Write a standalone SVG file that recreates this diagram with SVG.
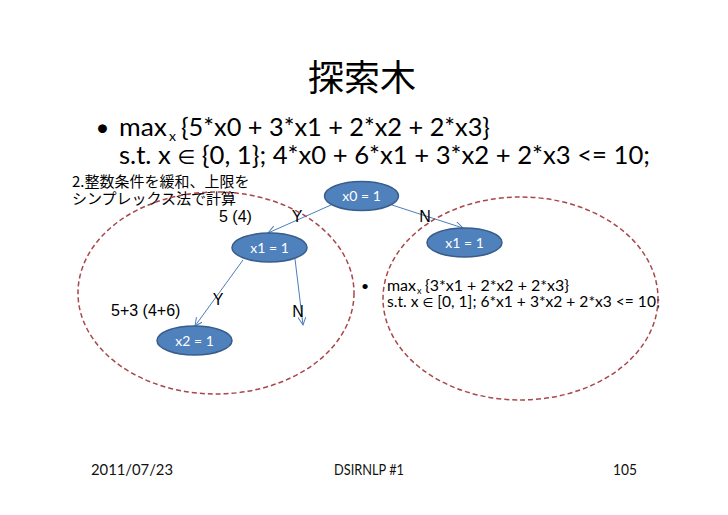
<svg xmlns="http://www.w3.org/2000/svg" width="728" height="515" viewBox="0 0 728 515">
<style>
  .main { font-family: Lato, "Open Sans", "DejaVu Sans", sans-serif; fill: #000; }
  .elem { font-family: "Noto Sans", "DejaVu Sans", sans-serif; font-size: 0.8em; }
  .jp { font-family: "Noto Sans CJK JP", sans-serif; fill: #000; }
  .lbl { font-family: "Liberation Sans", Arial, sans-serif; font-size: 16px; fill: #000; }
  .node ellipse { fill: #4F81BD; stroke: #385D8A; stroke-width: 1.5; }
  .node text { font-family: Lato, "Open Sans", sans-serif; font-size: 14px; fill: #fff; text-anchor: middle; }
  .edge { stroke: #4A7EBB; stroke-width: 1; fill: none; marker-end: url(#arr); }
  .region { fill: none; stroke: #A8474A; stroke-width: 1.5; stroke-dasharray: 5 3; }
  .foot { font-family: Lato, "Open Sans", sans-serif; font-size: 15px; fill: #111; }
</style>
<defs>
  <marker id="arr" markerUnits="userSpaceOnUse" markerWidth="12" markerHeight="12" refX="8" refY="4" orient="auto">
    <path d="M0,0 L8,4 L0,8" fill="none" stroke="#4A7EBB" stroke-width="1"/>
  </marker>
</defs>
<rect width="728" height="515" fill="#fff"/>

<text class="jp" x="362" y="91" font-size="36" text-anchor="middle">探索木</text>

<g id="formula">
  <text class="main" x="102.5" y="136" font-size="24" text-anchor="middle">•</text>
  <text class="main" x="119" y="136" font-size="25" textLength="48" lengthAdjust="spacingAndGlyphs">max</text>
  <text class="main" x="169" y="141" font-size="14">x</text>
  <text class="main" x="181" y="136" font-size="25" textLength="309" lengthAdjust="spacingAndGlyphs">{5*x0 + 3*x1 + 2*x2 + 2*x3}</text>
  <text class="main" x="119" y="164" font-size="25" textLength="531" lengthAdjust="spacingAndGlyphs">s.t. x <tspan class="elem">∈</tspan> {0, 1}; 4*x0 + 6*x1 + 3*x2 + 2*x3 &lt;= 10;</text>
</g>

<g id="note">
  <text class="jp" x="72" y="187" font-size="15">2.整数条件を緩和、上限を</text>
  <text class="jp" x="72" y="204" font-size="15">シンプレックス法で計算</text>
</g>

<g id="subproblem">
  <text class="main" x="365" y="291" font-size="14" text-anchor="middle">•</text>
  <text class="main" x="387" y="291" font-size="15.5" textLength="29" lengthAdjust="spacingAndGlyphs">max</text>
  <text class="main" x="417" y="294" font-size="9">x</text>
  <text class="main" x="425" y="291" font-size="15.5" textLength="144" lengthAdjust="spacingAndGlyphs">{3*x1 + 2*x2 + 2*x3}</text>
  <text class="main" x="387" y="307" font-size="15.5" textLength="273" lengthAdjust="spacingAndGlyphs">s.t. x <tspan class="elem">∈</tspan> [0, 1]; 6*x1 + 3*x2 + 2*x3 &lt;= 10;</text>
</g>

<g id="connectors">
  <line class="edge" x1="331" y1="205" x2="268" y2="233"/>
  <line class="edge" x1="392" y1="205" x2="463" y2="228"/>
  <line class="edge" x1="243" y1="260" x2="195" y2="326"/>
  <line class="edge" x1="295" y1="259" x2="303" y2="325"/>
</g>

<g id="labels">
  <text class="lbl" x="219" y="222">5 (4)</text>
  <text class="lbl" x="297" y="222" text-anchor="middle">Y</text>
  <text class="lbl" x="425" y="222" text-anchor="middle">N</text>
  <text class="lbl" x="218" y="305" text-anchor="middle">Y</text>
  <text class="lbl" x="298" y="317" text-anchor="middle">N</text>
  <text class="lbl" x="111" y="316">5+3 (4+6)</text>
</g>

<g id="node-x0" class="node"><ellipse cx="361.5" cy="196" rx="37" ry="14.5"/><text x="361.5" y="201">x0 = 1</text></g>
<g id="node-x1-left" class="node"><ellipse cx="269.5" cy="247.5" rx="37.5" ry="14.5"/><text x="269.5" y="252.5">x1 = 1</text></g>
<g id="node-x2" class="node"><ellipse cx="194.5" cy="340.5" rx="37.5" ry="14.5"/><text x="194.5" y="345.5">x2 = 1</text></g>
<g id="node-x1-right" class="node"><ellipse cx="464.5" cy="242.5" rx="37.5" ry="14.5"/><text x="464.5" y="247.5">x1 = 1</text></g>

<g id="regions">
  <ellipse class="region" cx="216" cy="293" rx="138" ry="101"/>
  <ellipse class="region" cx="520.5" cy="298.5" rx="137.5" ry="101.5"/>
</g>

<g id="footer">
  <text class="foot" x="91" y="475" textLength="82" lengthAdjust="spacingAndGlyphs">2011/07/23</text>
  <text class="foot" x="334" y="475" textLength="70" lengthAdjust="spacingAndGlyphs">DSIRNLP #1</text>
  <text class="foot" x="613" y="475" textLength="24" lengthAdjust="spacingAndGlyphs">105</text>
</g>
</svg>
